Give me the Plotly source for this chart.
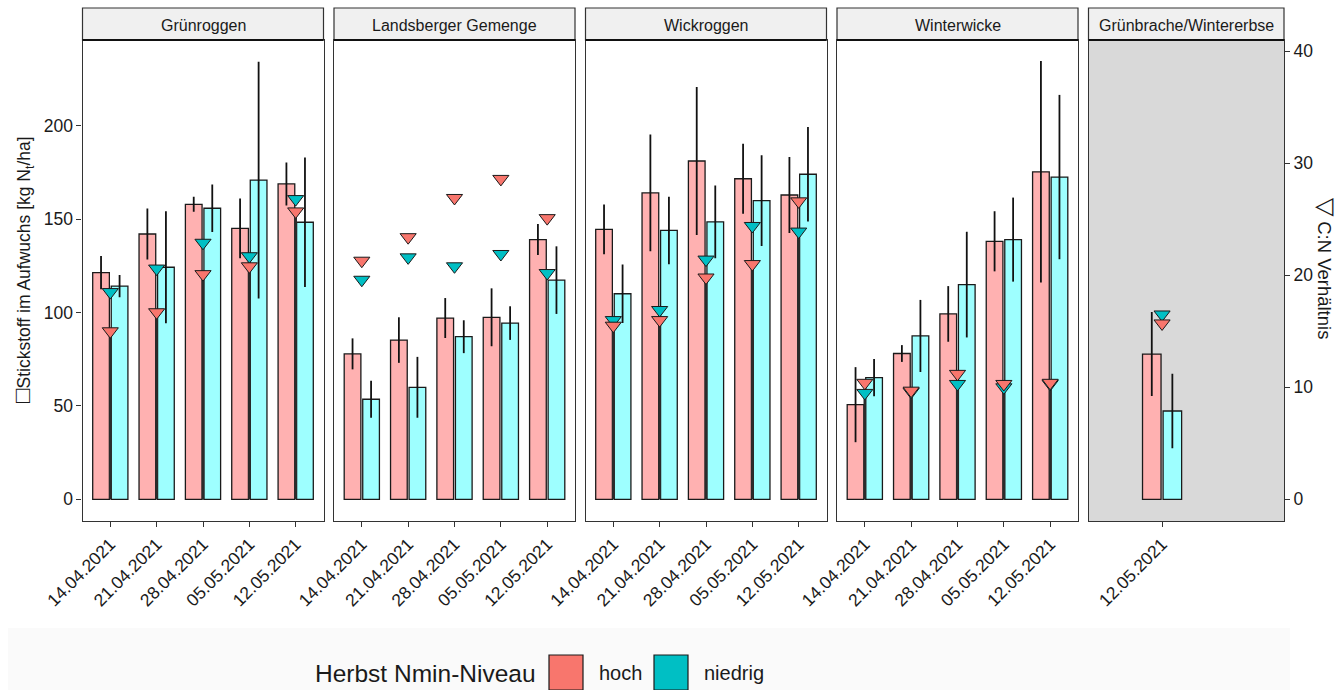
import plotly.graph_objects as go

# ---- data -------------------------------------------------------------
panels = ["Grünroggen", "Landsberger Gemenge", "Wickroggen", "Winterwicke",
          "Grünbrache/Wintererbse"]
dates = ["14.04.2021", "21.04.2021", "28.04.2021", "05.05.2021", "12.05.2021"]
panel_dates = [dates, dates, dates, dates, ["12.05.2021"]]

# N in above-ground biomass [kg N/ha], mean and error
n_hoch = [[121.4, 142.1, 158.0, 145.1, 168.9],
          [77.9, 85.3, 97.1, 97.5, 139.1],
          [144.6, 164.1, 181.2, 171.7, 163.0],
          [50.7, 78.1, 99.3, 138.2, 175.4],
          [77.8]]
n_hoch_err = [[8.9, 13.6, 4.0, 16.0, 11.5],
              [8.3, 12.2, 10.7, 15.5, 8.3],
              [13.3, 31.3, 39.6, 18.8, 20.4],
              [20.1, 4.5, 14.9, 16.1, 59.3],
              [22.5]]
n_niedrig = [[114.2, 124.3, 155.9, 171.0, 148.4],
             [53.6, 60.0, 87.1, 94.4, 117.4],
             [110.1, 144.0, 148.6, 160.0, 174.1],
             [65.2, 87.5, 115.0, 139.1, 172.6],
             [47.3]]
n_niedrig_err = [[6.0, 30.0, 12.7, 63.4, 34.7],
                 [9.9, 16.3, 8.8, 9.0, 18.1],
                 [15.7, 18.1, 19.5, 24.3, 25.3],
                 [10.0, 19.3, 28.3, 22.5, 44.0],
                 [20.0]]

# C:N ratio
cn_hoch = [[15.0, 16.7, 20.1, 20.8, 25.7],
           [21.3, 23.4, 26.9, 28.6, 25.1],
           [15.5, 16.0, 19.8, 21.0, 26.6],
           [10.4, 9.7, 11.2, 10.3, 10.4],
           [15.7]]
cn_niedrig = [[18.5, 20.6, 22.9, 21.7, 26.8],
              [19.6, 21.6, 20.8, 21.9, 20.2],
              [16.0, 16.9, 21.4, 24.4, 23.9],
              [9.5, 9.6, 10.3, 10.0, 10.3],
              [16.5]]
cn_factor = 6  # secondary axis: C:N = N / 6

# facets where the C:N marker is joined to the base by a stem
cn_stem_panels = ["Grünroggen", "Wickroggen", "Winterwicke"]

# ---- styling ----------------------------------------------------------
W, H = 1339, 690
FONT = "Liberation Sans, Arial, Helvetica, sans-serif"
TXT = "#1a1a1a"
BAR_FILL = {"hoch": "#FFB1B1", "niedrig": "#9EFFFF"}
PT_FILL = {"hoch": "#F8766D", "niedrig": "#00BFC4"}
FRAME = "#333333"

lefts = [82.5, 334.0, 585.5, 837.0, 1088.5]
rights = [323.5, 575.0, 826.5, 1078.0, 1284.0]
plot_top, plot_bot = 40.0, 521.0
strip_top = 8.0
y_range = [-11.6, 246.0]
x_ranges = [[0.4, 5.6]] * 4 + [[-0.43, 3.37]]


def px(v):
    return v / W


def py(v):
    return 1 - v / H


def label(x, y, text, size, **kw):
    fig.add_annotation(x=px(x), y=py(y), xref="paper", yref="paper", text=text,
                       showarrow=False, xanchor=kw.pop("xanchor", "center"),
                       yanchor="middle", font=dict(family=FONT, size=size, color=TXT),
                       **kw)


fig = go.Figure()

for i, name in enumerate(panels):
    ax = "" if i == 0 else str(i + 1)
    xref, yref = "x" + ax, "y" + ax
    cats = list(range(1, len(panel_dates[i]) + 1))

    # bars with error bars
    for lev, vals, errs, off in [("hoch", n_hoch[i], n_hoch_err[i], -0.2),
                                 ("niedrig", n_niedrig[i], n_niedrig_err[i], 0.2)]:
        fig.add_trace(go.Bar(
            x=[c + off for c in cats], y=vals, width=0.36,
            marker=dict(color=BAR_FILL[lev], line=dict(color="#1a1a1a", width=1.3)),
            error_y=dict(type="data", array=errs, visible=True, width=0,
                         thickness=1.8, color="#111111"),
            xaxis=xref, yaxis=yref, showlegend=False, hoverinfo="skip"))

    # stems from base to the lower C:N marker
    if name in cn_stem_panels:
        for c, a, b in zip(cats, cn_hoch[i], cn_niedrig[i]):
            fig.add_trace(go.Scatter(
                x=[c, c], y=[0, min(a, b) * cn_factor], mode="lines",
                line=dict(color="#2b2b2b", width=2.6),
                xaxis=xref, yaxis=yref, showlegend=False, hoverinfo="skip"))

    # C:N markers (drawn on the N scale)
    for lev, vals in [("niedrig", cn_niedrig[i]), ("hoch", cn_hoch[i])]:
        fig.add_trace(go.Scatter(
            x=cats, y=[v * cn_factor for v in vals], mode="markers",
            marker=dict(symbol="triangle-down", size=14, color=PT_FILL[lev],
                        line=dict(color="#1a1a1a", width=1)),
            xaxis=xref, yaxis=yref, showlegend=False, hoverinfo="skip"))

    fig.update_layout(**{
        "xaxis" + ax: dict(
            domain=[px(lefts[i]), px(rights[i])], range=x_ranges[i],
            tickvals=cats, ticktext=panel_dates[i], tickangle=-45,
            ticks="outside", ticklen=5, tickwidth=1, tickcolor=FRAME,
            showline=True, mirror=True, linecolor=FRAME, linewidth=1.2,
            showgrid=False, zeroline=False, anchor=yref, automargin=False,
            tickfont=dict(family=FONT, size=17.5, color=TXT)),
        "yaxis" + ax: dict(
            domain=[py(plot_bot), py(plot_top)], range=y_range,
            tickvals=[0, 50, 100, 150, 200], showticklabels=(i == 0),
            ticks="outside" if i == 0 else "", ticklen=5, tickwidth=1,
            tickcolor=FRAME, showline=True, mirror=True, linecolor=FRAME,
            linewidth=1.2, showgrid=False, zeroline=False, anchor=xref,
            automargin=False, tickfont=dict(family=FONT, size=17.5, color=TXT)),
    })

    # panel background
    fig.add_shape(type="rect", xref="paper", yref="paper", layer="below",
                  x0=px(lefts[i]), x1=px(rights[i]), y0=py(plot_bot), y1=py(plot_top),
                  fillcolor="#D9D9D9" if i == 4 else "white", line=dict(width=0))
    # facet strip
    fig.add_shape(type="rect", xref="paper", yref="paper",
                  x0=px(lefts[i]), x1=px(rights[i]), y0=py(plot_top), y1=py(strip_top),
                  fillcolor="#F0F0F0", line=dict(color=FRAME, width=1.2))
    fig.add_shape(type="line", xref="paper", yref="paper",
                  x0=px(lefts[i]), x1=px(rights[i]), y0=py(plot_top), y1=py(plot_top),
                  line=dict(color="#111111", width=2))
    label((lefts[i] + rights[i]) / 2, (strip_top + plot_top) / 2 + 1, name, 16)

# secondary C:N axis on the right of the last facet
fig.update_layout(yaxis6=dict(
    domain=[py(plot_bot), py(plot_top)],
    range=[y_range[0] / cn_factor, y_range[1] / cn_factor],
    overlaying="y5", side="right", anchor="x5", automargin=False,
    tickvals=[0, 10, 20, 30, 40], ticks="outside", ticklen=5, tickwidth=1,
    tickcolor=FRAME, showline=False, showgrid=False, zeroline=False,
    tickfont=dict(family=FONT, size=17.5, color=TXT)))
fig.add_trace(go.Scatter(x=[None], y=[None], xaxis="x5", yaxis="y6",
                         showlegend=False, hoverinfo="skip"))

# axis titles
label(22, 270, '<span style="font-size:24px">□</span>Stickstoff im Aufwuchs '
      '[kg N<sub>t</sub>/ha]', 17.5, textangle=-90)
label(1327, 268, '<span style="font-size:24px">▽</span> C:N Verhältnis', 18.5,
      textangle=90)

# legend
fig.add_shape(type="rect", xref="paper", yref="paper", layer="below",
              x0=px(8), x1=px(1290), y0=0, y1=py(628),
              fillcolor="#FAFAFA", line=dict(width=0))
label(313, 673, "Herbst Nmin-Niveau", 24.5, xanchor="left")
for lev, x0, tx in [("hoch", 549, 597), ("niedrig", 654, 702)]:
    fig.add_shape(type="rect", xref="paper", yref="paper",
                  x0=px(x0), x1=px(x0 + 34), y0=py(690), y1=py(655),
                  fillcolor=PT_FILL[lev], line=dict(color="#1a1a1a", width=1.2))
    label(tx, 673, lev, 20, xanchor="left")

fig.update_layout(width=W, height=H, margin=dict(l=0, r=0, t=0, b=0),
                  paper_bgcolor="white", plot_bgcolor="rgba(0,0,0,0)",
                  barmode="overlay", showlegend=False)

fig.write_html("out.html")
